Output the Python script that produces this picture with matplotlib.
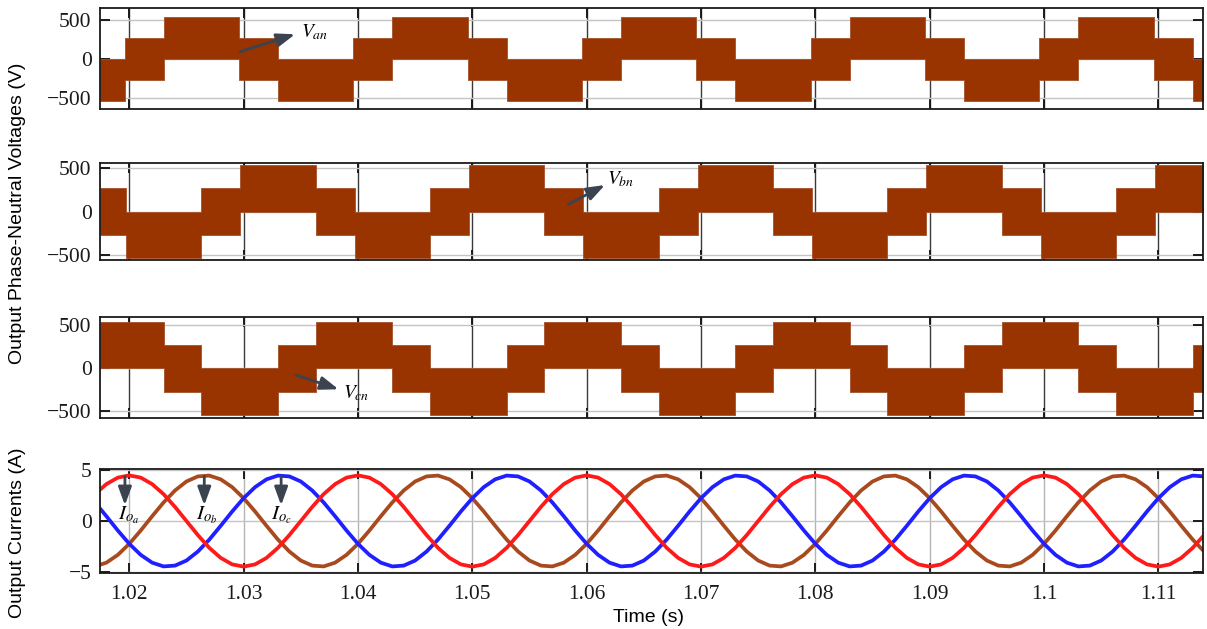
import matplotlib
matplotlib.use("Agg")
import matplotlib.pyplot as plt
import numpy as np

plt.rcParams['font.family'] = ['Liberation Serif', 'DejaVu Serif']
plt.rcParams['mathtext.fontset'] = 'stix'

# ---------------------------------------------------------------------------
# Phase-neutral voltages: switching instants (s) between PWM bands and the
# centre level (V) of the band used in each interval.
# ---------------------------------------------------------------------------
van_t = [1.0174, 1.0196, 1.0230, 1.0296, 1.0330, 1.0396, 1.0430, 1.0496,
         1.0530, 1.0596, 1.0630, 1.0696, 1.0730, 1.0796, 1.0830, 1.0896,
         1.0930, 1.0996, 1.1030, 1.1096, 1.1130, 1.1140]
van_c = [-270, 0, 270, 0, -270, 0, 270, 0, -270, 0, 270, 0, -270, 0,
         270, 0, -270, 0, 270, 0, -270]

vbn_t = [1.0174, 1.0197, 1.0263, 1.0297, 1.0363, 1.0397, 1.0463, 1.0497,
         1.0563, 1.0597, 1.0663, 1.0697, 1.0763, 1.0797, 1.0863, 1.0897,
         1.0963, 1.0997, 1.1063, 1.1097, 1.1140]
vbn_c = [0, -270, 0, 270, 0, -270, 0, 270, 0, -270, 0, 270, 0, -270,
         0, 270, 0, -270, 0, 270]

vcn_t = [1.0174, 1.0230, 1.0263, 1.0330, 1.0363, 1.0430, 1.0463, 1.0530,
         1.0563, 1.0630, 1.0663, 1.0730, 1.0763, 1.0830, 1.0863, 1.0930,
         1.0963, 1.1030, 1.1063, 1.1130, 1.1140]
vcn_c = [270, 0, -270, 0, 270, 0, -270, 0, 270, 0, -270, 0, 270, 0,
         -270, 0, 270, 0, -270, 0]

# the converter toggles between the two levels either side of the centre
band_half = 270

# ---------------------------------------------------------------------------
# Output phase currents (A), sampled every millisecond from 1.017 s
# ---------------------------------------------------------------------------
cur_start, cur_step = 1.017, 0.001

io_a = [2.65, 3.64, 4.28,
        4.50, 4.28, 3.64, 2.65, 1.39, 0.00, -1.39, -2.65, -3.64, -4.28,
        -4.50, -4.28, -3.64, -2.65, -1.39, 0.00, 1.39, 2.65, 3.64, 4.28,
        4.50, 4.28, 3.64, 2.65, 1.39, 0.00, -1.39, -2.65, -3.64, -4.28,
        -4.50, -4.28, -3.64, -2.65, -1.39, 0.00, 1.39, 2.65, 3.64, 4.28,
        4.50, 4.28, 3.64, 2.65, 1.39, 0.00, -1.39, -2.65, -3.64, -4.28,
        -4.50, -4.28, -3.64, -2.65, -1.39, 0.00, 1.39, 2.65, 3.64, 4.28,
        4.50, 4.28, 3.64, 2.65, 1.39, 0.00, -1.39, -2.65, -3.64, -4.28,
        -4.50, -4.28, -3.64, -2.65, -1.39, 0.00, 1.39, 2.65, 3.64, 4.28,
        4.50, 4.28, 3.64, 2.65, 1.39, 0.00, -1.39, -2.65, -3.64, -4.28,
        -4.50, -4.28, -3.64, -2.65, -1.39]

io_b = [-4.48, -4.11, -3.34,
        -2.25, -0.94, 0.47, 1.83, 3.01, 3.90, 4.40, 4.48, 4.11, 3.34,
        2.25, 0.94, -0.47, -1.83, -3.01, -3.90, -4.40, -4.48, -4.11, -3.34,
        -2.25, -0.94, 0.47, 1.83, 3.01, 3.90, 4.40, 4.48, 4.11, 3.34,
        2.25, 0.94, -0.47, -1.83, -3.01, -3.90, -4.40, -4.48, -4.11, -3.34,
        -2.25, -0.94, 0.47, 1.83, 3.01, 3.90, 4.40, 4.48, 4.11, 3.34,
        2.25, 0.94, -0.47, -1.83, -3.01, -3.90, -4.40, -4.48, -4.11, -3.34,
        -2.25, -0.94, 0.47, 1.83, 3.01, 3.90, 4.40, 4.48, 4.11, 3.34,
        2.25, 0.94, -0.47, -1.83, -3.01, -3.90, -4.40, -4.48, -4.11, -3.34,
        -2.25, -0.94, 0.47, 1.83, 3.01, 3.90, 4.40, 4.48, 4.11, 3.34,
        2.25, 0.94, -0.47, -1.83, -3.01]

io_c = [1.83, 0.47, -0.94,
        -2.25, -3.34, -4.11, -4.48, -4.40, -3.90, -3.01, -1.83, -0.47, 0.94,
        2.25, 3.34, 4.11, 4.48, 4.40, 3.90, 3.01, 1.83, 0.47, -0.94,
        -2.25, -3.34, -4.11, -4.48, -4.40, -3.90, -3.01, -1.83, -0.47, 0.94,
        2.25, 3.34, 4.11, 4.48, 4.40, 3.90, 3.01, 1.83, 0.47, -0.94,
        -2.25, -3.34, -4.11, -4.48, -4.40, -3.90, -3.01, -1.83, -0.47, 0.94,
        2.25, 3.34, 4.11, 4.48, 4.40, 3.90, 3.01, 1.83, 0.47, -0.94,
        -2.25, -3.34, -4.11, -4.48, -4.40, -3.90, -3.01, -1.83, -0.47, 0.94,
        2.25, 3.34, 4.11, 4.48, 4.40, 3.90, 3.01, 1.83, 0.47, -0.94,
        -2.25, -3.34, -4.11, -4.48, -4.40, -3.90, -3.01, -1.83, -0.47, 0.94,
        2.25, 3.34, 4.11, 4.48, 4.40]

x_ticks = [1.02, 1.03, 1.04, 1.05, 1.06, 1.07, 1.08, 1.09, 1.10, 1.11]
x_tick_labels = ['1.02', '1.03', '1.04', '1.05', '1.06', '1.07', '1.08',
                 '1.09', '1.1', '1.11']
v_ticks = [-500, 0, 500]
v_tick_labels = ['\u2212500', '0', '500']
i_ticks = [-5, 0, 5]
i_tick_labels = ['\u22125', '0', '5']

# ---------------------------------------------------------------------------
W, H = 1207, 629
fig = plt.figure(figsize=(W / 100, H / 100), dpi=100)


def frame(top, bottom):
    return [100 / W, 1 - bottom / H, 1103 / W, (bottom - top) / H]


ax_a = fig.add_axes(frame(8.3, 109.3))
ax_b = fig.add_axes(frame(163.3, 260.0))
ax_c = fig.add_axes(frame(316.7, 418.3))
ax_i = fig.add_axes(frame(469.3, 572.7))

VOLT_COLOR = '#993300'
XMIN, XMAX = 1.01744, 1.11390


def draw_voltage(ax, t, centres):
    lo = [c - band_half for c in centres]
    hi = [c + band_half for c in centres]
    ax.fill_between(t, lo + [lo[-1]], hi + [hi[-1]], step='post',
                    color=VOLT_COLOR, linewidth=0.6, edgecolor='#a4502a',
                    zorder=2)


def style(ax, vgrid, yt, ytl, ylim, show_x):
    ax.set_xlim(XMIN, XMAX)
    ax.set_ylim(*ylim)
    ax.set_xticks(x_ticks)
    ax.set_yticks(yt)
    ax.set_yticklabels(ytl)
    if show_x:
        ax.set_xticklabels(x_tick_labels)
    else:
        ax.set_xticklabels([])
    ax.set_axisbelow(True)
    ax.grid(True, axis='y', color='#c4c4c4', linewidth=1.0)
    ax.grid(True, axis='x', color=vgrid, linewidth=1.0)
    ax.tick_params(direction='in', length=7, width=1.4, top=True,
                   right=True, labelsize=15.5, colors='#1a1a1a')
    ax.tick_params(axis='x', pad=9)
    ax.tick_params(axis='y', pad=6)
    for s in ax.spines.values():
        s.set_linewidth(1.3)
        s.set_color('#1a1a1a')


draw_voltage(ax_a, van_t, van_c)
draw_voltage(ax_b, vbn_t, vbn_c)
draw_voltage(ax_c, vcn_t, vcn_c)

style(ax_a, '#3a3a3a', v_ticks, v_tick_labels, (-643, 655), False)
style(ax_b, '#3a3a3a', v_ticks, v_tick_labels, (-563, 560), False)
style(ax_c, '#3a3a3a', v_ticks, v_tick_labels, (-580, 600), False)

cur_t = cur_start + cur_step * np.arange(len(io_a))
ax_i.plot(cur_t, io_b, color='#a84a1e', linewidth=2.7, zorder=2)
ax_i.plot(cur_t, io_c, color='#1f1fff', linewidth=2.7, zorder=2)
ax_i.plot(cur_t, io_a, color='#ff1a1a', linewidth=2.7, zorder=2)
style(ax_i, '#b4b4b4', i_ticks, i_tick_labels, (-5.1, 5.1), True)

# ---------------------------------------------------------------------------
ARROW = '#3b4350'
arrow_kw = dict(arrowstyle='-|>,head_length=0.55,head_width=0.2',
                color=ARROW, lw=2.0, shrinkA=0, shrinkB=0,
                mutation_scale=20)

ax_a.annotate('', xy=(1.0345, 321), xytext=(1.0297, 98),
              arrowprops=arrow_kw, zorder=5)
ax_a.text(1.03505, 350, r'$V_{an}$', fontsize=14, ha='left', va='center',
          zorder=5)

ax_b.annotate('', xy=(1.0616, 308), xytext=(1.0584, 84),
              arrowprops=arrow_kw, zorder=5)
ax_b.text(1.06175, 380, r'$V_{bn}$', fontsize=14, ha='left', va='center',
          zorder=5)

ax_c.annotate('', xy=(1.0383, -243), xytext=(1.0346, -78),
              arrowprops=arrow_kw, zorder=5)
ax_c.text(1.03870, -290, r'$V_{cn}$', fontsize=14, ha='left', va='center',
          zorder=5)

for x_arrow, x_text, lab in [(1.01962, 1.0190, r'$I_{o_a}$'),
                             (1.02656, 1.0258, r'$I_{o_b}$'),
                             (1.03328, 1.0324, r'$I_{o_c}$')]:
    ax_i.annotate('', xy=(x_arrow, 1.55), xytext=(x_arrow, 4.4),
                  arrowprops=arrow_kw, zorder=5)
    ax_i.text(x_text, 0.55, lab, fontsize=15, ha='left', va='center',
              zorder=5)

# axis titles
fig.text(18 / W, 1 - 213 / H, 'Output Phase-Neutral Voltages (V)',
         rotation=90, ha='center', va='center', fontsize=14,
         family='Liberation Sans')
fig.text(18 / W, 1 - 533 / H, 'Output Currents (A)', rotation=90,
         ha='center', va='center', fontsize=14, family='Liberation Sans')
fig.text(648 / W, 1 - 618 / H, 'Time (s)', ha='center', va='center',
         fontsize=14, family='Liberation Sans')

fig.savefig('out.png', dpi=100)
